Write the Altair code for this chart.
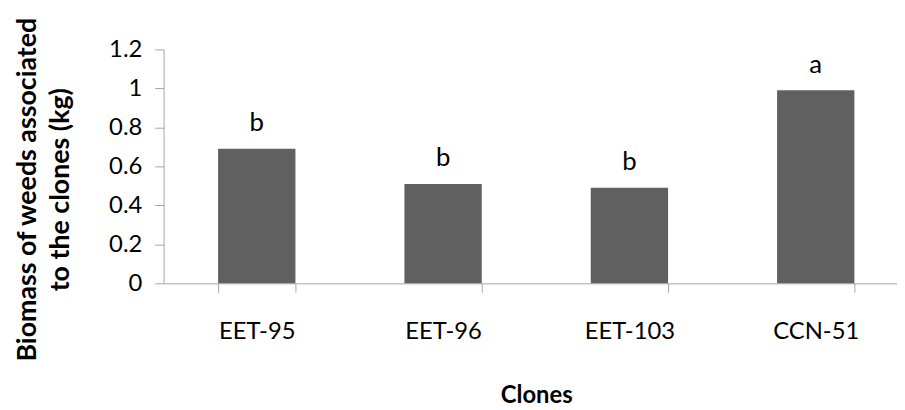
import altair as alt
import pandas as pd

# ---- data ----
clones = ["EET-95", "EET-96", "EET-103", "CCN-51"]
biomass = [0.69, 0.51, 0.49, 0.99]
letters = ["b", "b", "b", "a"]
y_ticks = [0, 0.2, 0.4, 0.6, 0.8, 1, 1.2]
y_title = ["Biomass of weeds associated", "to the clones (kg)"]
x_title = "Clones"

df = pd.DataFrame({"clone": clones, "biomass": biomass, "letter": letters})

FONT = "Lato"
GRAY = "#a6a6a6"
BAR = "#606060"

x_enc = alt.X(
    "clone:N",
    sort=clones,
    scale=alt.Scale(paddingInner=0.585, paddingOuter=0.2925),
    axis=alt.Axis(
        title=x_title,
        labelAngle=0,
        tickBand="extent",
        domainColor=GRAY,
        tickColor=GRAY,
        tickSize=9,
        labelPadding=28,
        labelFont=FONT,
        labelFontSize=24,
        labelColor="black",
        titleFont=FONT,
        titleFontSize=24,
        titleFontWeight="bold",
        titleColor="black",
        titleY=120,
        titleBaseline="alphabetic",
        grid=False,
    ),
)

y_enc = alt.Y(
    "biomass:Q",
    scale=alt.Scale(domain=[0, 1.2], nice=False),
    axis=alt.Axis(
        values=y_ticks,
        format="~g",
        labelOverlap=False,
        title=y_title,
        domainColor=GRAY,
        tickColor=GRAY,
        tickSize=9,
        labelPadding=13,
        labelFont=FONT,
        labelFontSize=24,
        labelColor="black",
        titleFont=FONT,
        titleFontSize=27,
        titleFontWeight="bold",
        titleColor="black",
        titleAngle=-90,
        titleX=-129,
        titleY=141,
        titleAlign="center",
        titleBaseline="alphabetic",
        titleLineHeight=33,
        grid=False,
    ),
)

base = alt.Chart(df).encode(x=x_enc, y=y_enc)
bars = base.mark_bar(color=BAR)
text = base.mark_text(
    font=FONT, fontSize=26, baseline="alphabetic", dy=-18, color="black"
).encode(text="letter:N")

chart = (
    alt.layer(bars, text)
    .properties(
        width=752,
        height=236,
        autosize=alt.AutoSizeParams(type="none"),
        padding={"left": 157, "top": 40, "right": -12, "bottom": 126},
    )
    .configure_view(stroke=None)
)

chart.save("out.html", embed_options={"renderer": "svg", "actions": False})
